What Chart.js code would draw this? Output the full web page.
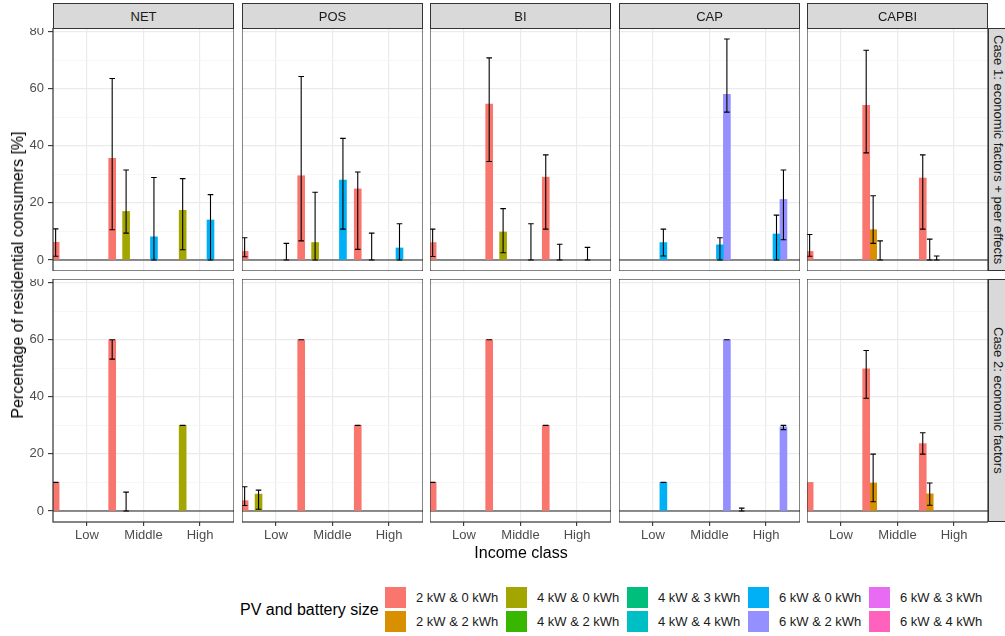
<!DOCTYPE html>
<html>
<head>
<meta charset="utf-8">
<script src="https://cdn.jsdelivr.net/npm/chart.js@4"></script>
<style>
  body { margin: 0; background: #fff; overflow: hidden; }
  #fig { position: relative; width: 1005px; height: 636px; overflow: hidden; font-family: 'Liberation Sans', Arial, sans-serif; }
  .strip { position: absolute; background: #d9d9d9; border: 1px solid #333; box-sizing: border-box;
           display: flex; align-items: center; justify-content: center; color: #1a1a1a; font-size: 13px; }
  .vstrip { writing-mode: vertical-rl; }
  .ttl { position: absolute; color: #000; font-size: 16px; white-space: nowrap; }
  .key { position: absolute; width: 21px; height: 21px; }
  .klab { position: absolute; font-size: 13px; color: #1a1a1a; white-space: nowrap; line-height: 22px; }
</style>
</head>
<body>
<div id="fig"></div>
<script>
var incomeClasses = ['Low', 'Middle', 'High'];
var schemes = ['NET', 'POS', 'BI', 'CAP', 'CAPBI'];
var caseLabels = ['Case 1: economic factors + peer effects', 'Case 2: economic factors'];
var pvSizes = ['2 kW & 0 kWh', '2 kW & 2 kWh', '4 kW & 0 kWh', '4 kW & 2 kWh', '4 kW & 3 kWh',
               '4 kW & 4 kWh', '6 kW & 0 kWh', '6 kW & 2 kWh', '6 kW & 3 kWh', '6 kW & 4 kWh'];
var pvColors = ['#F8766D', '#D89000', '#A3A500', '#39B600', '#00BF7D',
                '#00BFC4', '#00B0F6', '#9590FF', '#E76BF3', '#FF62BC'];
var yTicks = [0, 10, 20, 30, 40, 50, 60, 70, 80];

// rows: [income class, pv size, mean, lower, upper]
// case 1: economic factors + peer effects
var net1 = [[0, 0, 6.2, 1.3, 10.9], [1, 0, 35.6, 10.6, 63.6], [1, 2, 17.0, 9.4, 31.5],
            [1, 6, 8.1, 0, 28.9], [2, 2, 17.4, 3.6, 28.5], [2, 6, 14.0, 0, 22.9]];
var pos1 = [[0, 0, 3.0, 1.1, 7.8], [0, 6, 0, 0, 5.8], [1, 0, 29.5, 6.7, 64.3], [1, 2, 6.1, 0, 23.7],
            [1, 6, 28.0, 10.8, 42.6], [2, 0, 24.9, 3.7, 30.8], [2, 2, 0, 0, 9.4], [2, 6, 4.2, 0, 12.7]];
var bi1 = [[0, 0, 6.1, 1.2, 10.8], [1, 0, 54.6, 34.5, 70.8], [1, 2, 9.8, 2.5, 18.0], [1, 6, 0, 0, 12.7],
           [2, 0, 29.0, 10.8, 36.8], [2, 2, 0, 0, 5.5], [2, 6, 0, 0, 4.4]];
var cap1 = [[0, 6, 6.1, 1.4, 10.8], [1, 6, 5.3, 0, 7.8], [1, 7, 58.0, 51.8, 77.4],
            [2, 6, 9.1, 0, 15.7], [2, 7, 21.2, 7.1, 31.5]];
var capbi1 = [[0, 0, 3.0, 1.3, 8.9], [1, 0, 54.2, 37.5, 73.5], [1, 1, 10.6, 5.8, 22.5], [1, 2, 0, 0, 6.7],
              [2, 0, 28.7, 10.8, 36.8], [2, 1, 0, 0, 7.3], [2, 2, 0, 0, 1.4]];
// case 2: economic factors
var net2 = [[0, 0, 10, 10, 10], [1, 0, 60, 53.2, 60], [1, 2, 0, 0, 6.6], [2, 2, 30, 30, 30]];
var pos2 = [[0, 0, 3.6, 1.9, 8.5], [0, 2, 5.9, 0.6, 7.3], [1, 0, 60, 60, 60], [2, 0, 30, 30, 30]];
var bi2 = [[0, 0, 10, 10, 10], [1, 0, 60, 60, 60], [2, 0, 30, 30, 30]];
var cap2 = [[0, 6, 10, 10, 10], [1, 7, 60, 60, 60], [2, 1, 0, 0, 1.0], [2, 7, 29.5, 28.5, 30]];
var capbi2 = [[0, 0, 10, null, null], [1, 0, 49.8, 39.5, 56.2], [1, 1, 9.8, 3.2, 19.9],
              [2, 0, 23.6, 19.9, 27.4], [2, 1, 6.0, 2.0, 9.8]];

var panelData = [[net1, pos1, bi1, cap1, capbi1], [net2, pos2, bi2, cap2, capbi2]];

// layout
var panelLeft = 53, panelStep = 188.5, panelW = 181, panelH = 243;
var rowTops = [28, 279];
var yAxisW = 53, xAxisH = 24;
var dodgeWidth = 1.23;

var fig = document.getElementById('fig');
Chart.defaults.font.family = "'Liberation Sans', Arial, sans-serif";

// shared y range, ggplot style 5% expansion
var maxHi = 0;
panelData.forEach(function (row) {
  row.forEach(function (rows) {
    rows.forEach(function (d) { maxHi = Math.max(maxHi, d[2], d[4] || 0); });
  });
});
var yPad = maxHi * 0.05;

function dodgeX(cls, s) {
  var slot = dodgeWidth / pvSizes.length;
  return cls + 1 + (s - (pvSizes.length - 1) / 2) * slot;
}

function decoPlugin(rows) {
  return {
    id: 'deco',
    beforeDatasetsDraw: function (chart) {
      var a = chart.chartArea, ctx = chart.ctx;
      var y0 = chart.scales.y.getPixelForValue(0);
      ctx.save();
      ctx.strokeStyle = '#222';
      ctx.lineWidth = 1.1;
      ctx.beginPath();
      ctx.moveTo(a.left, y0);
      ctx.lineTo(a.right, y0);
      ctx.stroke();
      ctx.restore();
    },
    afterDatasetsDraw: function (chart) {
      var a = chart.chartArea, ctx = chart.ctx;
      var xs = chart.scales.x, ys = chart.scales.y;
      ctx.save();
      ctx.beginPath();
      ctx.rect(a.left, a.top, a.width, a.height);
      ctx.clip();
      ctx.strokeStyle = '#000';
      ctx.lineWidth = 1.1;
      rows.forEach(function (d) {
        if (d[3] === null) return;
        var x = xs.getPixelForValue(dodgeX(d[0], d[1]));
        var lo = ys.getPixelForValue(d[3]), hi = ys.getPixelForValue(d[4]);
        ctx.beginPath();
        ctx.moveTo(x, lo); ctx.lineTo(x, hi);
        ctx.moveTo(x - 2.8, lo); ctx.lineTo(x + 2.8, lo);
        ctx.moveTo(x - 2.8, hi); ctx.lineTo(x + 2.8, hi);
        ctx.stroke();
      });
      ctx.restore();
    },
    afterDraw: function (chart) {
      var a = chart.chartArea, ctx = chart.ctx;
      ctx.save();
      ctx.strokeStyle = '#333';
      ctx.lineWidth = 1.2;
      ctx.strokeRect(a.left, a.top, a.width, a.height);
      ctx.restore();
    }
  };
}

function makePanel(r, c) {
  var rows = panelData[r][c];
  var showY = c === 0, showX = r === 1;
  var left = Math.round(panelLeft + c * panelStep) - (showY ? yAxisW : 0);
  var w = panelW + (showY ? yAxisW : 0);
  var h = panelH + (showX ? xAxisH : 0);
  var canvas = document.createElement('canvas');
  canvas.width = w;
  canvas.height = h;
  canvas.style.cssText = 'position:absolute;left:' + left + 'px;top:' + rowTops[r] + 'px;width:' + w + 'px;height:' + h + 'px';
  fig.appendChild(canvas);

  var datasets = pvSizes.map(function (name, s) {
    return {
      label: name,
      data: rows.filter(function (d) { return d[1] === s && d[2] > 0; })
                .map(function (d) { return { x: dodgeX(d[0], s), y: d[2] }; }),
      backgroundColor: pvColors[s],
      barThickness: 7,
      grouped: false,
      clip: 0
    };
  });

  new Chart(canvas, {
    type: 'bar',
    data: { datasets: datasets },
    options: {
      responsive: false,
      animation: false,
      layout: { padding: 0 },
      plugins: { legend: { display: false }, tooltip: { enabled: false } },
      scales: {
        x: {
          type: 'linear',
          offset: false,
          min: 0.4,
          max: 3.6,
          afterBuildTicks: function (s) { s.ticks = [{ value: 1 }, { value: 2 }, { value: 3 }]; },
          afterFit: function (s) {
            s.height = showX ? xAxisH : 0;
            s.paddingLeft = 0; s.paddingRight = 0;
          },
          border: { display: false },
          grid: { offset: false, color: '#ebebeb', lineWidth: 1.2, drawTicks: showX, tickLength: 4, tickColor: '#333', tickWidth: 1.1 },
          ticks: {
            display: showX,
            padding: 2,
            maxRotation: 0,
            autoSkip: false,
            color: '#4d4d4d',
            font: { size: 13 },
            callback: function (v) { return incomeClasses[v - 1]; }
          }
        },
        y: {
          type: 'linear',
          min: -yPad,
          max: maxHi + yPad,
          afterBuildTicks: function (s) { s.ticks = yTicks.map(function (v) { return { value: v }; }); },
          afterFit: function (s) {
            s.width = showY ? yAxisW : 0;
            s.paddingTop = 0; s.paddingBottom = 0;
          },
          border: { display: false },
          grid: {
            color: function (ctx) { return ctx.tick && ctx.tick.value % 20 === 0 ? '#ebebeb' : '#f4f4f4'; },
            lineWidth: function (ctx) { return ctx.tick && ctx.tick.value % 20 === 0 ? 1.2 : 0.8; },
            drawTicks: showY,
            tickLength: 5,
            tickWidth: 1.1,
            tickColor: function (ctx) { return ctx.tick && ctx.tick.value % 20 === 0 ? '#333' : 'rgba(0,0,0,0)'; }
          },
          ticks: {
            display: showY,
            padding: 4,
            color: '#4d4d4d',
            font: { size: 13 },
            callback: function (v) { return v % 20 === 0 ? v : ''; }
          }
        }
      }
    },
    plugins: [decoPlugin(rows)]
  });
}

function addDiv(cls, text, css) {
  var d = document.createElement('div');
  d.className = cls;
  d.textContent = text;
  d.style.cssText = css;
  fig.appendChild(d);
  return d;
}

for (var r = 0; r < 2; r++) {
  for (var c = 0; c < schemes.length; c++) makePanel(r, c);
}

// facet strips
schemes.forEach(function (name, c) {
  var left = Math.round(panelLeft + c * panelStep);
  addDiv('strip', name, 'left:' + left + 'px;top:3px;width:' + panelW + 'px;height:26px;');
});
caseLabels.forEach(function (name, r) {
  addDiv('strip vstrip', name, 'left:988px;top:' + rowTops[r] + 'px;width:20px;height:' + panelH + 'px;');
});

// axis titles
addDiv('ttl', 'Income class', 'left:521px;top:544px;transform:translateX(-50%);');
addDiv('ttl', 'Percentage of residential consumers [%]',
  'left:18px;top:275px;transform:translate(-50%,-50%) rotate(-90deg);');

// legend
addDiv('ttl', 'PV and battery size', 'left:240px;top:601px;');
pvSizes.forEach(function (name, s) {
  var col = Math.floor(s / 2), row = s % 2;
  var kx = 385 + col * 121, ky = 587 + row * 24;
  var k = addDiv('key', '', 'left:' + kx + 'px;top:' + ky + 'px;');
  k.style.background = pvColors[s];
  addDiv('klab', name, 'left:' + (kx + 31) + 'px;top:' + ky + 'px;');
});
</script>
</body>
</html>
